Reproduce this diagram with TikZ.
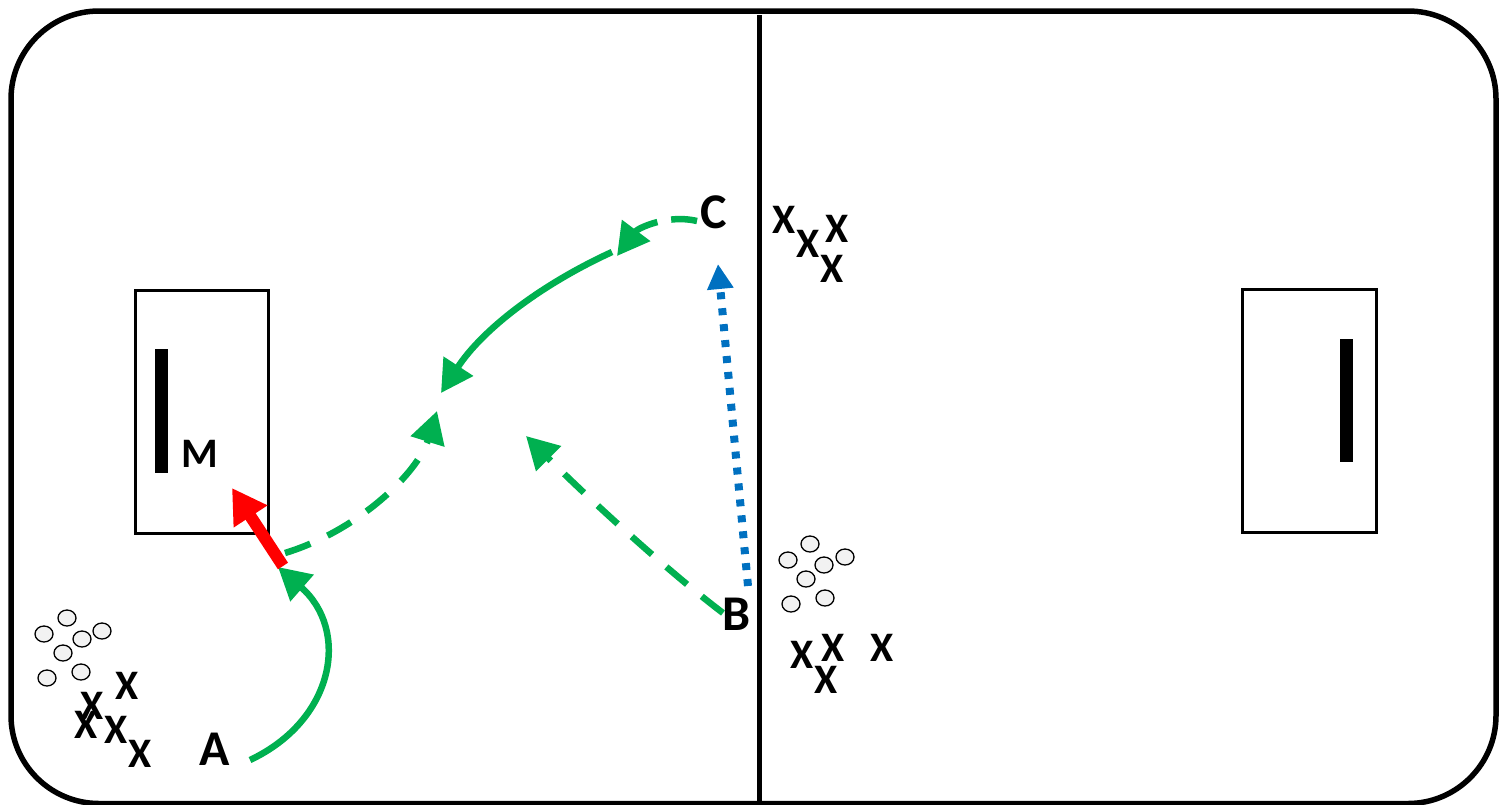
\documentclass[tikz,border=0pt]{standalone}
\usepackage{fontspec}
\setmainfont{Carlito}
\usetikzlibrary{arrows.meta,shapes.geometric}
\definecolor{pgreen}{HTML}{00B050}
\definecolor{pblue}{HTML}{0070C0}
\definecolor{pred}{HTML}{FF0000}
\definecolor{puck}{HTML}{F2F2F2}
\begin{document}
\begin{tikzpicture}[x=1pt,y=-1pt,
  lbl/.style={font=\fontsize{50}{50}\selectfont\bfseries, inner sep=0pt, anchor=base},
  xm/.style={font=\fontsize{42}{42}\selectfont\bfseries, inner sep=0pt, anchor=base},
  puckn/.style={ellipse, draw=black, fill=puck, line width=1.3pt, minimum width=18pt, minimum height=16pt, inner sep=0pt},
  goalbox/.style={draw=black, line width=3pt},
  bar/.style={fill=black},
  ghead/.style={-{Triangle[length=32pt,width=34pt]}},
  gsolid/.style={draw=pgreen, line width=6.5pt, ghead},
  gdash/.style={draw=pgreen, line width=6.5pt, dash pattern=on 27pt off 19pt, ghead},
  rarrow/.style={draw=pred, line width=12pt, -{Triangle[length=34pt,width=38pt]}},
  bdot/.style={draw=pblue, line width=8pt, dash pattern=on 7pt off 9pt, -{Triangle[length=25pt,width=25pt]}}
]
\useasboundingbox (0,0) rectangle (1506,804);
% rink
\draw[line width=5.5pt, rounded corners=88pt] (11,11) rectangle (1496,803.5);
\draw[line width=5pt] (759,15) -- (759,806);
% goal boxes
\draw[goalbox] (135,290) rectangle (268,533);
\fill[bar] (155,349) rectangle (168,473);
\draw[goalbox] (1242,289) rectangle (1376,532);
\fill[bar] (1340,339) rectangle (1353,462);
\node[xm] (M) at (200,467) {M};
% pucks left
\node[puckn] (p1) at (67,618) {};
\node[puckn] (p2) at (44,634) {};
\node[puckn] (p3) at (102,631) {};
\node[puckn] (p4) at (82,639) {};
\node[puckn] (p5) at (63,653) {};
\node[puckn] (p6) at (81,672) {};
\node[puckn] (p7) at (47,678) {};
% pucks middle
\node[puckn] (q1) at (810,544) {};
\node[puckn] (q2) at (788,560) {};
\node[puckn] (q3) at (845,557) {};
\node[puckn] (q4) at (824,565) {};
\node[puckn] (q5) at (806,579) {};
\node[puckn] (q6) at (825,598) {};
\node[puckn] (q7) at (791,604) {};
% players left
\node[xm] (x1) at (127,699) {X};
\node[xm] (x2) at (92,719) {X};
\node[xm] (x3) at (86,738) {X};
\node[xm] (x4) at (116,743) {X};
\node[xm] (x5) at (140,767) {X};
% players middle
\node[xm] (y1) at (802,668) {X};
\node[xm] (y2) at (833,661) {X};
\node[xm] (y3) at (826,693) {X};
\node[xm] (y4) at (882,661) {X};
% players top
\node[xm] (z1) at (784,233) {X};
\node[xm] (z2) at (808,257) {X};
\node[xm] (z3) at (837,242) {X};
\node[xm] (z4) at (832,282) {X};
% labels
\node[lbl] (A) at (215,765) {A};
\node[lbl] (B) at (737,630) {B};
\node[lbl] (C) at (714,228) {C};
% arrow end points
\coordinate (a0) at (250,760);
\coordinate (a1) at (278,567);
\coordinate (r0) at (283,566);
\coordinate (r1) at (232,488);
\coordinate (d0) at (285,553);
\coordinate (d1) at (437,411);
\coordinate (b0) at (723,613);
\coordinate (b1) at (526,436);
\coordinate (c0) at (697,221);
\coordinate (c1) at (617,256);
\coordinate (e0) at (612,252);
\coordinate (e1) at (441,393);
\coordinate (u0) at (748,586);
\coordinate (u1) at (718,264);
% arrows
\draw[gsolid] (a0) .. controls (335,720) and (350,630) .. (a1);
\draw[rarrow] (r0) -- (r1);
\draw[gdash] (d0) .. controls (360,530) and (418,472) .. (d1);
\draw[gdash] (b0) .. controls (660,565) and (580,490) .. (b1);
\draw[gdash, dash pattern=on 26pt off 14pt] (c0) .. controls (668,214) and (638,228) .. (c1);
\draw[gsolid] (e0) .. controls (540,285) and (482,330) .. (e1);
\draw[bdot] (u0) -- (u1);
\end{tikzpicture}
\end{document}
